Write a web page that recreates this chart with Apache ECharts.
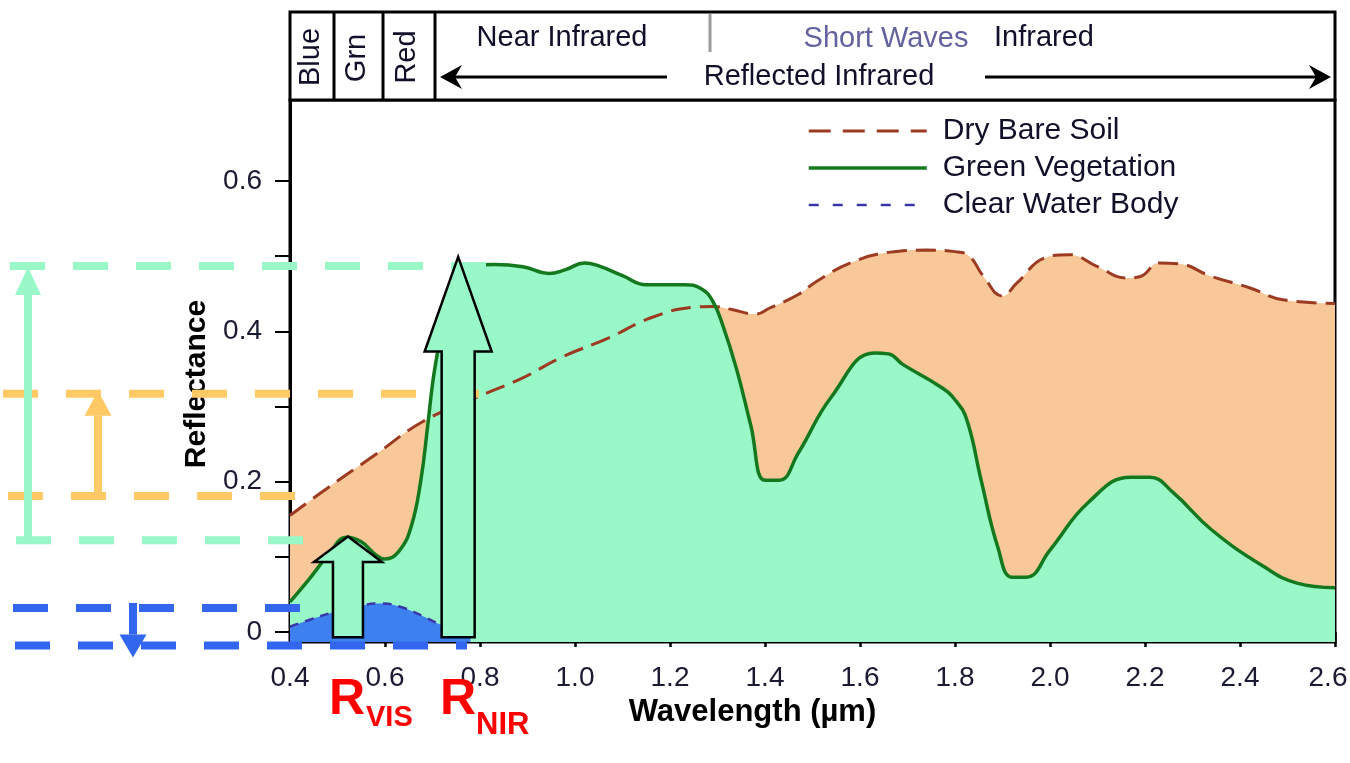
<!DOCTYPE html>
<html>
<head>
<meta charset="utf-8">
<script src="https://cdn.jsdelivr.net/npm/echarts@6/dist/echarts.min.js"></script>
<style>
  html, body { margin: 0; padding: 0; background: #fff; }
  #chart { width: 1350px; height: 763px; }
</style>
</head>
<body>
<div id="chart"></div>
<script>
// spectral reflectance curves (wavelength in µm, reflectance 0..1)
const soilWl = [0.40, 0.48, 0.58, 0.68, 0.80, 0.89, 0.97, 1.07, 1.16, 1.25, 1.29, 1.33, 1.38, 1.41, 1.47, 1.51, 1.58, 1.66, 1.74, 1.80, 1.83, 1.86, 1.90, 1.93, 1.99, 2.04, 2.10, 2.16, 2.19, 2.23, 2.27, 2.34, 2.42, 2.49, 2.60];
const soilR = [0.155, 0.192, 0.236, 0.280, 0.314, 0.338, 0.365, 0.391, 0.418, 0.432, 0.433, 0.429, 0.423, 0.431, 0.449, 0.467, 0.491, 0.505, 0.508, 0.506, 0.500, 0.473, 0.447, 0.464, 0.498, 0.502, 0.486, 0.471, 0.473, 0.491, 0.490, 0.473, 0.458, 0.442, 0.437];

const vegWl = [0.40, 0.44, 0.48, 0.52, 0.55, 0.58, 0.60, 0.63, 0.655, 0.675, 0.69, 0.70, 0.71, 0.73, 0.76, 0.79, 0.83, 0.89, 0.945, 0.98, 1.02, 1.05, 1.10, 1.15, 1.23, 1.265, 1.29, 1.31, 1.34, 1.37, 1.40, 1.43, 1.47, 1.54, 1.63, 1.66, 1.69, 1.77, 1.80, 1.825, 1.855, 1.89, 1.92, 1.95, 2.00, 2.08, 2.17, 2.21, 2.26, 2.34, 2.45, 2.52, 2.60];
const vegR = [0.040, 0.070, 0.102, 0.126, 0.120, 0.103, 0.097, 0.108, 0.140, 0.200, 0.275, 0.330, 0.370, 0.445, 0.482, 0.488, 0.489, 0.486, 0.477, 0.482, 0.491, 0.487, 0.474, 0.462, 0.462, 0.457, 0.440, 0.410, 0.350, 0.275, 0.202, 0.202, 0.238, 0.313, 0.371, 0.370, 0.356, 0.326, 0.309, 0.282, 0.202, 0.113, 0.073, 0.073, 0.109, 0.172, 0.206, 0.206, 0.185, 0.136, 0.087, 0.065, 0.059];

const waterWl = [0.40, 0.44, 0.49, 0.54, 0.59, 0.63, 0.68, 0.72, 0.76, 0.78];
const waterR = [0.007, 0.016, 0.026, 0.034, 0.038, 0.034, 0.021, 0.009, 0.002, 0.0];

const seriesNames = ['Dry Bare Soil', 'Green Vegetation', 'Clear Water Body'];
const yTickValues = [0, 0.1, 0.2, 0.3, 0.4, 0.5, 0.6];
const yLabelValues = [0, 0.2, 0.4, 0.6];
const bandLabels = ['Blue', 'Grn', 'Red'];

// annotation levels
const nirLevel = 0.487, visLevel = 0.122;
const soilHigh = 0.317, soilLow = 0.181;
const waterHigh = 0.032, waterLow = -0.018;
const visArrowWl = 0.522, nirArrowWl = 0.754;

const FONT = "'Liberation Sans', Arial, sans-serif";
const MINT = '#98f8c8', PEACH = '#f8c898', WATER = '#3d80f0';
const SOIL_LINE = '#9c3a22', VEG_LINE = '#14781e', WATER_LINE = '#3a36a8';
const TXT = '#10102a';

const pairs = (xs, ys) => xs.map((x, i) => [x, ys[i]]);

const chart = echarts.init(document.getElementById('chart'));

chart.setOption({
  animation: false,
  textStyle: { fontFamily: FONT },
  grid: {
    left: 290, right: 15, top: 100, bottom: 121,
    outerBoundsMode: 'none',
    show: true, borderColor: '#000', borderWidth: 3, backgroundColor: 'transparent'
  },
  legend: {
    data: [
      { name: seriesNames[0], itemStyle: { opacity: 0 }, lineStyle: { color: SOIL_LINE, width: 3, type: [22, 12] } },
      { name: seriesNames[1], itemStyle: { opacity: 0 }, lineStyle: { color: VEG_LINE, width: 3.5 } },
      { name: seriesNames[2], itemStyle: { opacity: 0 }, lineStyle: { color: WATER_LINE, width: 2.5, type: [10, 14] } }
    ],
    orient: 'vertical',
    left: 807, top: 116, padding: 0,
    itemWidth: 118, itemHeight: 14, itemGap: 7,
    selectedMode: false,
    textStyle: { fontSize: 30, color: TXT, fontFamily: FONT, padding: [0, 0, 0, 11] }
  },
  xAxis: {
    type: 'value', min: 0.4, max: 2.6, interval: 0.2,
    name: 'Wavelength (µm)', nameLocation: 'middle', nameGap: 54,
    nameTextStyle: { fontSize: 31, fontWeight: 'bold', color: '#000', padding: [0, 120, 0, 0] },
    axisLine: { lineStyle: { color: '#000', width: 3 } },
    axisTick: { length: 15, lineStyle: { color: '#000', width: 2.5 } },
    axisLabel: {
      fontSize: 28, color: '#1a1a33', margin: 22,
      formatter: v => (v >= 2.6 ? '{last|' + v.toFixed(1) + '}' : v.toFixed(1)),
      rich: { last: { fontSize: 28, color: '#1a1a33', fontFamily: FONT, padding: [0, 14, 0, 0] } }
    },
    splitLine: { show: false }
  },
  yAxis: {
    type: 'value', min: -0.0133, max: 0.7077,
    name: 'Reflectance', nameLocation: 'middle', nameGap: 78, nameRotate: 90,
    nameTextStyle: { fontSize: 30, fontWeight: 'bold', color: '#000', padding: [0, 26, 0, 0] },
    axisLine: { show: true, lineStyle: { color: '#000', width: 3 } },
    axisTick: { show: true, length: 15, customValues: yTickValues, lineStyle: { color: '#000', width: 2 } },
    axisLabel: {
      fontSize: 28, color: '#1a1a33', margin: 28, customValues: yLabelValues,
      formatter: v => (v === 0 ? '0' : v.toFixed(1))
    },
    splitLine: { show: false }
  },
  series: [
    {
      name: 'soil-fill', type: 'line', z: 1, symbol: 'none', smooth: 0.45,
      data: pairs(soilWl, soilR), lineStyle: { width: 0, opacity: 0 },
      areaStyle: { color: PEACH, opacity: 1, origin: 'start' }
    },
    {
      name: 'veg-fill', type: 'line', z: 2, symbol: 'none', smooth: 0.45,
      data: pairs(vegWl, vegR), lineStyle: { width: 0, opacity: 0 },
      areaStyle: { color: MINT, opacity: 1, origin: 'start' }
    },
    {
      name: 'water-fill', type: 'line', z: 3, symbol: 'none', smooth: 0.45,
      data: pairs(waterWl, waterR), lineStyle: { width: 0, opacity: 0 },
      areaStyle: { color: WATER, opacity: 1, origin: 'start' }
    },
    {
      name: seriesNames[0], type: 'line', z: 5, symbol: 'none', smooth: 0.45,
      data: pairs(soilWl, soilR), color: SOIL_LINE,
      lineStyle: { color: SOIL_LINE, width: 3, type: [20, 9] }
    },
    {
      name: seriesNames[1], type: 'line', z: 6, symbol: 'none', smooth: 0.45,
      data: pairs(vegWl, vegR), color: VEG_LINE,
      lineStyle: { color: VEG_LINE, width: 3.5 }
    },
    {
      name: seriesNames[2], type: 'line', z: 7, symbol: 'none', smooth: 0.45,
      data: pairs(waterWl, waterR), color: WATER_LINE,
      lineStyle: { color: WATER_LINE, width: 2.5, type: [9, 7] }
    }
  ]
});

// helpers for the overlay drawing
const px = (x, y) => chart.convertToPixel({ gridIndex: 0 }, [x, y]);
const yAt = v => px(0.4, v)[1];
const xAt = w => px(w, 0)[0];

function dashLine(x1, x2, v, color) {
  const y = yAt(v);
  return {
    type: 'line', z: 100,
    shape: { x1: x1, y1: y, x2: x2, y2: y },
    style: { stroke: color, lineWidth: 8, lineDash: [35, 28] }
  };
}

function vArrow(x, y1, y2, color, headW, headL) {
  const dir = y2 < y1 ? 1 : -1;
  const base = y2 + dir * headL;
  return [
    { type: 'line', z: 101, shape: { x1: x, y1: y1, x2: x, y2: base }, style: { stroke: color, lineWidth: 8 } },
    { type: 'polygon', z: 101, shape: { points: [[x, y2], [x + headW / 2, base], [x - headW / 2, base]] }, style: { fill: color } }
  ];
}

function blockArrow(w, tipV, baseV, headHalf, shaftHalf) {
  const cx = xAt(w);
  const yt = yAt(tipV), yb = yAt(baseV), y0 = yAt(-0.007);
  return {
    type: 'polygon', z: 110,
    shape: {
      points: [[cx, yt], [cx + headHalf, yb], [cx + shaftHalf, yb], [cx + shaftHalf, y0],
               [cx - shaftHalf, y0], [cx - shaftHalf, yb], [cx - headHalf, yb]]
    },
    style: { fill: MINT, stroke: '#000', lineWidth: 2.5 }
  };
}

function headerText(text, x, y, color, rotate) {
  return {
    type: 'text', z: 120, x: x, y: y, rotation: rotate ? Math.PI / 2 : 0,
    style: { text: text, fill: color || TXT, font: '29px ' + FONT, align: 'center', verticalAlign: 'middle' }
  };
}

const gfx = [];

// header box with spectral bands
gfx.push({ type: 'rect', z: 90, shape: { x: 290, y: 12, width: 1045, height: 88 }, style: { fill: '#fff', stroke: '#000', lineWidth: 3 } });
[334, 383, 435].forEach(x => gfx.push({ type: 'line', z: 91, shape: { x1: x, y1: 12, x2: x, y2: 100 }, style: { stroke: '#000', lineWidth: 3 } }));
gfx.push({ type: 'line', z: 91, shape: { x1: 710, y1: 14, x2: 710, y2: 52 }, style: { stroke: '#9a9a9a', lineWidth: 3 } });
[[311, 57], [357, 58], [407, 57]].forEach((p, i) => gfx.push(headerText(bandLabels[i], p[0], p[1], TXT, true)));
gfx.push(headerText('Near Infrared', 562, 38));
gfx.push(headerText('Short Waves', 886, 39, '#62629e'));
gfx.push(headerText('Infrared', 1044, 38));
gfx.push(headerText('Reflected Infrared', 819, 77));
gfx.push({ type: 'line', z: 91, shape: { x1: 667, y1: 77, x2: 452, y2: 77 }, style: { stroke: '#000', lineWidth: 3 } });
gfx.push({ type: 'polygon', z: 91, shape: { points: [[440, 77], [462, 65], [455, 77], [462, 89]] }, style: { fill: '#000' } });
gfx.push({ type: 'line', z: 91, shape: { x1: 985, y1: 77, x2: 1318, y2: 77 }, style: { stroke: '#000', lineWidth: 3 } });
gfx.push({ type: 'polygon', z: 91, shape: { points: [[1331, 77], [1309, 65], [1316, 77], [1309, 89]] }, style: { fill: '#000' } });

// dashed guide lines
gfx.push(dashLine(10, 486, nirLevel, MINT));
gfx.push(dashLine(3, 481, soilHigh, '#ffc965'));
gfx.push(dashLine(8, 297, soilLow, '#ffc965'));
gfx.push(dashLine(16, 304, visLevel, MINT));
gfx.push(dashLine(13, 301, waterHigh, '#3366ee'));
gfx.push(dashLine(15, 467, waterLow, '#3366ee'));

// range arrows on the left
gfx.push(...vArrow(28, yAt(visLevel), yAt(nirLevel) + 1, MINT, 26, 28));
gfx.push(...vArrow(98, yAt(soilLow), yAt(soilHigh) - 3, '#ffc965', 27, 25));
gfx.push(...vArrow(133, yAt(waterHigh) - 5, yAt(waterLow) + 12, '#3366ee', 27, 23));

// outlined arrows marking R_VIS and R_NIR
gfx.push(blockArrow(visArrowWl, 0.127, 0.093, 34, 15));
gfx.push(blockArrow(nirArrowWl, 0.499, 0.373, 33.5, 16.5));

// R labels
const bigFont = "'Liberation Sans Narrow', 'Liberation Sans', Arial, sans-serif";
const redText = (text, x, y, size) => ({
  type: 'text', z: 120, x: x, y: y,
  style: { text: text, fill: '#ff0000', font: 'bold ' + size + 'px ' + bigFont, align: 'left', verticalAlign: 'middle' }
});
gfx.push(redText('R', 329, 700, 50));
gfx.push(redText('VIS', 366, 718, 29));
gfx.push(redText('R', 440, 700, 50));
gfx.push(redText('NIR', 476, 725, 31));

chart.setOption({ graphic: { elements: gfx } });
</script>
</body>
</html>
